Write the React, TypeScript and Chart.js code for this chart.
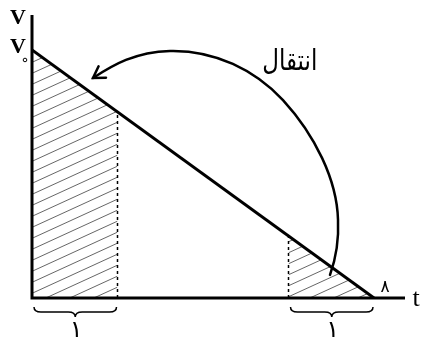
import React, { useEffect, useRef } from "react";
import { Chart, registerables } from "chart.js";

Chart.register(...registerables);

// main line v(t)
const lineT = [0, 8];
const lineV = [1, 0];
// hatched intervals (on the line)
const leftHatchT = [0, 2];
const leftHatchV = [1, 0.75];
const rightHatchT = [6, 8];
const rightHatchV = [0.25, 0];
// axis extents
const xMax = 8.725;
const yMax = 1.141;
// labels
const yLabel = "V";
const v0Label = "V";
const xLabel = "t";
const endLabel = "۸";
const braceLabel = "۱";
const arrowLabel = "انتقال";
// curved arrow path in data units: start, then [cp1, cp2, end] triples
const arrowStart = { t: 6.971, v: 0.093 };
const arrowSegs = [
  [{ t: 7.111, v: 0.161 }, { t: 7.181, v: 0.234 }, { t: 7.158, v: 0.315 }],
  [{ t: 7.135, v: 0.476 }, { t: 6.62, v: 0.657 }, { t: 5.871, v: 0.798 }],
  [{ t: 5.216, v: 0.919 }, { t: 4.281, v: 1.0 }, { t: 3.228, v: 0.996 }],
  [{ t: 2.409, v: 0.992 }, { t: 1.9, v: 0.94 }, { t: 1.427, v: 0.887 }],
];
const arrowLabelPos = { t: 6.03, v: 0.95 };

function makeHatch(): CanvasPattern | string {
  const W = 24;
  const H = 11;
  const c = document.createElement("canvas");
  c.width = W;
  c.height = H;
  const g = c.getContext("2d");
  if (!g) return "rgba(0,0,0,0)";
  g.strokeStyle = "#555";
  g.lineWidth = 0.9;
  for (const off of [-H, 0, H]) {
    g.beginPath();
    g.moveTo(-W, H + off + H);
    g.lineTo(2 * W, off - H);
    g.stroke();
  }
  const p = g.createPattern(c, "repeat");
  return p || "#ccc";
}

const pairs = (ts: number[], vs: number[]) => ts.map((t, i) => ({ x: t, y: vs[i] }));

export default function App() {
  const ref = useRef<HTMLCanvasElement>(null);
  useEffect(() => {
    if (!ref.current) return;
    const hatch = makeHatch();
    const overlay = {
      id: "overlay",
      afterDatasetsDraw(chart: any) {
        const ctx = chart.ctx as CanvasRenderingContext2D;
        const xs = chart.scales.x;
        const ys = chart.scales.y;
        const X = (t: number) => xs.getPixelForValue(t);
        const Y = (v: number) => ys.getPixelForValue(v);
        const { left, right, top, bottom } = chart.chartArea;
        ctx.save();
        // axes
        ctx.strokeStyle = "#000";
        ctx.lineWidth = 3;
        ctx.beginPath();
        ctx.moveTo(left, top);
        ctx.lineTo(left, bottom);
        ctx.lineTo(right, bottom);
        ctx.stroke();
        // labels
        ctx.fillStyle = "#000";
        ctx.textAlign = "center";
        ctx.textBaseline = "middle";
        ctx.font = 'bold 22px "Liberation Serif"';
        ctx.fillText(yLabel, left - 14, top + 3);
        ctx.fillText(v0Label, left - 14, Y(lineV[0]) - 3);
        ctx.lineWidth = 1;
        ctx.beginPath();
        ctx.arc(left - 7, Y(lineV[0]) + 10, 1.8, 0, Math.PI * 2);
        ctx.stroke();
        ctx.font = '26px "Liberation Serif"';
        ctx.fillText(xLabel, right + 11, bottom + 1);
        ctx.font = '17px "DejaVu Sans"';
        ctx.fillText(endLabel, X(lineT[1]) + 11, bottom - 10);
        // braces
        const brace = (t0: number, t1: number) => {
          const x0 = X(t0) + 2;
          const x1 = X(t1) - 1;
          const xm = (x0 + x1) / 2;
          const yTop = bottom + 9;
          const yMid = bottom + 14;
          const yTip = bottom + 19;
          const q = 7;
          ctx.lineWidth = 1.5;
          ctx.beginPath();
          ctx.moveTo(x0, yTop);
          ctx.quadraticCurveTo(x0, yMid, x0 + q, yMid);
          ctx.lineTo(xm - q, yMid);
          ctx.quadraticCurveTo(xm, yMid, xm, yTip);
          ctx.quadraticCurveTo(xm, yMid, xm + q, yMid);
          ctx.lineTo(x1 - q, yMid);
          ctx.quadraticCurveTo(x1, yMid, x1, yTop);
          ctx.stroke();
          ctx.font = '24px "DejaVu Sans"';
          ctx.fillText(braceLabel, xm + 1, bottom + 33);
        };
        brace(leftHatchT[0], leftHatchT[1]);
        brace(rightHatchT[0], rightHatchT[1]);
        // curved arrow
        ctx.lineWidth = 2.5;
        ctx.lineCap = "round";
        ctx.beginPath();
        ctx.moveTo(X(arrowStart.t), Y(arrowStart.v));
        for (const [a, b, c] of arrowSegs) {
          ctx.bezierCurveTo(X(a.t), Y(a.v), X(b.t), Y(b.v), X(c.t), Y(c.v));
        }
        ctx.stroke();
        const last = arrowSegs[arrowSegs.length - 1];
        const tipX = X(last[2].t);
        const tipY = Y(last[2].v);
        const ang = Math.atan2(tipY - Y(last[1].v), tipX - X(last[1].t));
        const L = 13;
        ctx.lineJoin = "miter";
        ctx.beginPath();
        ctx.moveTo(tipX - L * Math.cos(ang - 0.55), tipY - L * Math.sin(ang - 0.55));
        ctx.lineTo(tipX, tipY);
        ctx.lineTo(tipX - L * Math.cos(ang + 0.55), tipY - L * Math.sin(ang + 0.55));
        ctx.stroke();
        ctx.save();
        ctx.translate(X(arrowLabelPos.t), Y(arrowLabelPos.v));
        ctx.scale(1, 1.25);
        ctx.font = '23px "DejaVu Sans"';
        ctx.fillText(arrowLabel, 0, 0);
        ctx.restore();
        ctx.restore();
      },
    };
    const chart = new Chart(ref.current, {
      type: "line",
      data: {
        datasets: [
          {
            data: pairs(lineT, lineV),
            borderColor: "#000",
            borderWidth: 3,
            pointRadius: 0,
            fill: false,
          },
          {
            data: [
              { x: leftHatchT[1], y: 0 },
              { x: leftHatchT[1], y: leftHatchV[1] },
            ],
            borderColor: "#000",
            borderWidth: 1.5,
            borderDash: [3, 3],
            pointRadius: 0,
            fill: false,
          },
          {
            data: [
              { x: rightHatchT[0], y: 0 },
              { x: rightHatchT[0], y: rightHatchV[0] },
            ],
            borderColor: "#000",
            borderWidth: 1.5,
            borderDash: [3, 3],
            pointRadius: 0,
            fill: false,
          },
          {
            data: pairs(leftHatchT, leftHatchV),
            borderWidth: 0,
            borderColor: "rgba(0,0,0,0)",
            backgroundColor: hatch as any,
            pointRadius: 0,
            fill: "origin",
          },
          {
            data: pairs(rightHatchT, rightHatchV),
            borderWidth: 0,
            borderColor: "rgba(0,0,0,0)",
            backgroundColor: hatch as any,
            pointRadius: 0,
            fill: "origin",
          },
        ],
      },
      options: {
        animation: false,
        responsive: false,
        layout: { padding: { left: 32, top: 15, right: 16, bottom: 42 } },
        plugins: { legend: { display: false }, tooltip: { enabled: false } },
        scales: {
          x: { type: "linear", min: 0, max: xMax, display: false },
          y: { type: "linear", min: 0, max: yMax, display: false },
        },
      },
      plugins: [overlay],
    });
    return () => chart.destroy();
  }, []);
  return (
    <div style={{ position: "fixed", left: 0, top: 0, width: 421, height: 340, background: "#fff" }}>
      <canvas ref={ref} width={421} height={340} />
    </div>
  );
}
